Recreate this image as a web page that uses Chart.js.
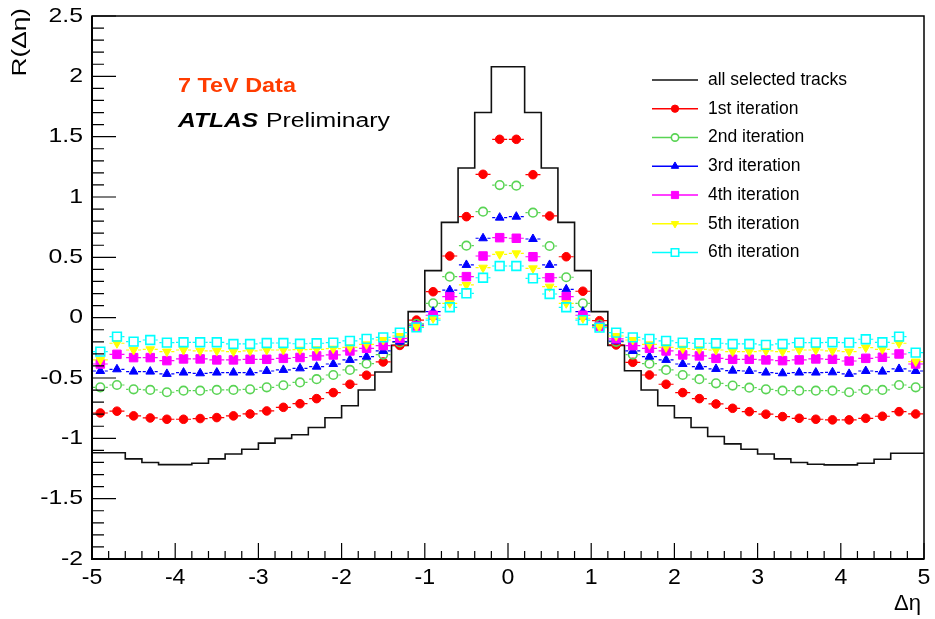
<!DOCTYPE html>
<html>
<head>
<meta charset="utf-8">
<script src="https://cdn.jsdelivr.net/npm/chart.js@4/dist/chart.umd.min.js"></script>
<style>
  html, body { margin: 0; padding: 0; background: #ffffff; }
  canvas { display: block; }
</style>
</head>
<body>
<canvas id="chart" width="935" height="619"></canvas>
<script>
// Δη bin centres: 50 bins of width 0.2 from -5 to 5
const etaCentres = [-4.9, -4.7, -4.5, -4.3, -4.1, -3.9, -3.7, -3.5, -3.3, -3.1,
  -2.9, -2.7, -2.5, -2.3, -2.1, -1.9, -1.7, -1.5, -1.3, -1.1,
  -0.9, -0.7, -0.5, -0.3, -0.1, 0.1, 0.3, 0.5, 0.7, 0.9,
  1.1, 1.3, 1.5, 1.7, 1.9, 2.1, 2.3, 2.5, 2.7, 2.9,
  3.1, 3.3, 3.5, 3.7, 3.9, 4.1, 4.3, 4.5, 4.7, 4.9];
const binHalfWidth = 0.1;

// R(Δη) for all selected tracks (histogram)
const allTracks = [-1.12, -1.12, -1.17, -1.20, -1.218, -1.218, -1.207, -1.17, -1.13, -1.09,
  -1.04, -1.00, -0.97, -0.91, -0.83, -0.73, -0.60, -0.45, -0.23, 0.05,
  0.39, 0.79, 1.24, 1.70, 2.08, 2.08, 1.70, 1.24, 0.79, 0.39,
  0.05, -0.23, -0.44, -0.60, -0.73, -0.83, -0.91, -0.985, -1.046, -1.09,
  -1.13, -1.17, -1.20, -1.215, -1.22, -1.22, -1.207, -1.173, -1.123, -1.123];

// R(Δη) after each iteration
const iteration1 = [-0.790, -0.775, -0.814, -0.831, -0.842, -0.842, -0.836, -0.828, -0.814, -0.798,
  -0.773, -0.743, -0.713, -0.671, -0.621, -0.552, -0.477, -0.367, -0.230, -0.020,
  0.215, 0.511, 0.837, 1.188, 1.478, 1.478, 1.185, 0.843, 0.505, 0.219,
  -0.025, -0.226, -0.370, -0.475, -0.552, -0.621, -0.671, -0.715, -0.751, -0.779,
  -0.800, -0.820, -0.834, -0.842, -0.847, -0.847, -0.834, -0.817, -0.779, -0.798];
const iteration2 = [-0.577, -0.558, -0.594, -0.599, -0.618, -0.605, -0.605, -0.599, -0.599, -0.594,
  -0.577, -0.560, -0.537, -0.510, -0.475, -0.433, -0.381, -0.306, -0.205, -0.052,
  0.119, 0.340, 0.597, 0.878, 1.099, 1.094, 0.870, 0.594, 0.335, 0.119,
  -0.058, -0.200, -0.306, -0.381, -0.433, -0.475, -0.510, -0.544, -0.563, -0.580,
  -0.594, -0.605, -0.605, -0.605, -0.605, -0.618, -0.599, -0.599, -0.558, -0.577];
const iteration3 = [-0.442, -0.428, -0.447, -0.447, -0.466, -0.455, -0.461, -0.455, -0.455, -0.455,
  -0.442, -0.433, -0.420, -0.406, -0.384, -0.350, -0.323, -0.276, -0.199, -0.063,
  0.050, 0.229, 0.437, 0.658, 0.829, 0.837, 0.652, 0.437, 0.235, 0.050,
  -0.067, -0.195, -0.276, -0.323, -0.350, -0.384, -0.406, -0.425, -0.439, -0.442,
  -0.455, -0.461, -0.455, -0.455, -0.453, -0.466, -0.442, -0.447, -0.425, -0.442];
const iteration4 = [-0.384, -0.304, -0.331, -0.331, -0.356, -0.342, -0.342, -0.350, -0.350, -0.345,
  -0.345, -0.337, -0.330, -0.317, -0.309, -0.276, -0.254, -0.232, -0.171, -0.069,
  0.020, 0.174, 0.340, 0.511, 0.663, 0.658, 0.505, 0.331, 0.174, 0.020,
  -0.072, -0.175, -0.232, -0.254, -0.276, -0.309, -0.317, -0.337, -0.345, -0.345,
  -0.350, -0.356, -0.350, -0.342, -0.345, -0.359, -0.337, -0.328, -0.301, -0.384];
const iteration5 = [-0.350, -0.212, -0.268, -0.262, -0.281, -0.268, -0.275, -0.275, -0.281, -0.275,
  -0.268, -0.268, -0.265, -0.262, -0.257, -0.246, -0.221, -0.185, -0.152, -0.074,
  -0.005, 0.119, 0.271, 0.414, 0.525, 0.533, 0.409, 0.257, 0.119, -0.005,
  -0.076, -0.152, -0.185, -0.221, -0.246, -0.257, -0.262, -0.268, -0.281, -0.281,
  -0.275, -0.281, -0.268, -0.268, -0.275, -0.281, -0.248, -0.262, -0.212, -0.364];
const iteration6 = [-0.281, -0.157, -0.199, -0.185, -0.207, -0.204, -0.204, -0.204, -0.218, -0.218,
  -0.210, -0.210, -0.216, -0.212, -0.207, -0.193, -0.176, -0.163, -0.124, -0.080,
  -0.020, 0.086, 0.202, 0.331, 0.428, 0.428, 0.326, 0.196, 0.086, -0.020,
  -0.082, -0.124, -0.163, -0.176, -0.193, -0.207, -0.212, -0.212, -0.218, -0.218,
  -0.226, -0.218, -0.207, -0.207, -0.204, -0.207, -0.179, -0.204, -0.157, -0.290];

const seriesLabels = ['all selected tracks', '1st iteration', '2nd iteration', '3rd iteration',
  '4th iteration', '5th iteration', '6th iteration'];

const xTickValues = [-5, -4, -3, -2, -1, 0, 1, 2, 3, 4, 5];
const xTickLabels = ['-5', '-4', '-3', '-2', '-1', '0', '1', '2', '3', '4', '5'];
const yTickValues = [-2, -1.5, -1, -0.5, 0, 0.5, 1, 1.5, 2, 2.5];
const yTickLabels = ['-2', '-1.5', '-1', '-0.5', '0', '0.5', '1', '1.5', '2', '2.5'];

// ---- marker styles for the iteration series ----
const markerStyles = [
  { color: '#ff0000', pointStyle: 'circle',   rotation: 0,   radius: 4.3, filled: true,  borderWidth: 1,   gap: 4.2 },
  { color: '#59d454', pointStyle: 'circle',   rotation: 0,   radius: 4.3, filled: false, borderWidth: 1.6, gap: 5.2 },
  { color: '#0000ff', pointStyle: 'triangle', rotation: 0,   radius: 5.0, filled: true,  borderWidth: 1,   gap: 4.4 },
  { color: '#ff00ff', pointStyle: 'rect',     rotation: 0,   radius: 6.0, filled: true,  borderWidth: 1,   gap: 4.4 },
  { color: '#ffff00', pointStyle: 'triangle', rotation: 180, radius: 5.0, filled: true,  borderWidth: 1,   gap: 4.4 },
  { color: '#00ffff', pointStyle: 'rect',     rotation: 0,   radius: 6.2, filled: false, borderWidth: 1.6, gap: 5.2 }
];
const iterationValues = [iteration1, iteration2, iteration3, iteration4, iteration5, iteration6];

const FONT = '"Liberation Sans", Arial, Helvetica, sans-serif';

// histogram outline: one point at each left bin edge plus the closing right edge
const histPoints = etaCentres.map((c, i) => ({ x: c - binHalfWidth, y: allTracks[i] }));
histPoints.push({ x: etaCentres[etaCentres.length - 1] + binHalfWidth, y: allTracks[allTracks.length - 1] });

const datasets = [{
  label: seriesLabels[0],
  data: histPoints,
  stepped: 'before',
  borderColor: '#111111',
  borderWidth: 1.6,
  pointRadius: 0,
  fill: false,
  order: 10
}];
iterationValues.forEach((vals, k) => {
  const s = markerStyles[k];
  datasets.push({
    label: seriesLabels[k + 1],
    data: etaCentres.map((c, i) => ({ x: c, y: vals[i] })),
    showLine: false,
    borderColor: s.color,
    backgroundColor: s.color,
    pointStyle: s.pointStyle,
    pointRotation: s.rotation,
    pointRadius: s.radius,
    pointHoverRadius: s.radius,
    pointBackgroundColor: s.filled ? s.color : 'rgba(0,0,0,0)',
    pointBorderColor: s.color,
    pointBorderWidth: s.borderWidth,
    order: 6 - k,
    styleIndex: k
  });
});

// text helper: optional stretch along the writing direction and rotation
function putText(ctx, str, x, y, opts) {
  ctx.save();
  ctx.translate(x, y);
  if (opts.angle) ctx.rotate(opts.angle);
  ctx.scale(opts.sx || 1, 1);
  ctx.font = opts.font;
  ctx.fillStyle = opts.color || '#000';
  ctx.textAlign = opts.align || 'left';
  ctx.textBaseline = opts.baseline || 'alphabetic';
  ctx.fillText(str, 0, 0);
  ctx.restore();
}

// horizontal bin-width bars drawn under each marker series
const binBars = {
  id: 'binBars',
  beforeDatasetDraw(chart, args) {
    const ds = chart.data.datasets[args.index];
    if (ds.styleIndex === undefined) return;
    const s = markerStyles[ds.styleIndex];
    const { ctx, scales: { x, y } } = chart;
    ctx.save();
    ctx.strokeStyle = s.color;
    ctx.lineWidth = 1.2;
    ctx.beginPath();
    ds.data.forEach(p => {
      const px = x.getPixelForValue(p.x);
      const py = y.getPixelForValue(p.y);
      const xl = x.getPixelForValue(p.x - 0.09);
      const xr = x.getPixelForValue(p.x + 0.09);
      ctx.moveTo(xl, py); ctx.lineTo(px - s.gap, py);
      ctx.moveTo(px + s.gap, py); ctx.lineTo(xr, py);
    });
    ctx.stroke();
    ctx.restore();
  }
};

// frame with inward ticks
const frameTicks = {
  id: 'frameTicks',
  afterDatasetsDraw(chart) {
    const { ctx, chartArea: a, scales: { x, y } } = chart;
    ctx.save();
    ctx.strokeStyle = '#000';
    ctx.lineWidth = 1.2;
    ctx.beginPath();
    for (let k = 0; k <= 50; k++) {
      const px = x.getPixelForValue(-5 + k * 0.2);
      const len = (k % 5 === 0) ? 16 : 8;
      ctx.moveTo(px, a.bottom); ctx.lineTo(px, a.bottom - len);
    }
    for (let k = 0; k <= 45; k++) {
      const py = y.getPixelForValue(-2 + k * 0.1);
      const len = (k % 5 === 0) ? 24 : 12;
      ctx.moveTo(a.left, py); ctx.lineTo(a.left + len, py);
    }
    ctx.stroke();
    ctx.lineWidth = 1.5;
    ctx.strokeRect(a.left, a.top, a.right - a.left, a.bottom - a.top);
    ctx.lineWidth = 2;
    ctx.beginPath();
    ctx.moveTo(a.left, a.top); ctx.lineTo(a.left, a.bottom); ctx.lineTo(a.right, a.bottom);
    ctx.stroke();
    ctx.restore();
  }
};

// axis labels, titles, annotation and legend
const annotations = {
  id: 'annotations',
  afterDraw(chart) {
    const { ctx, chartArea: a, scales: { x, y } } = chart;
    yTickValues.forEach((v, i) => {
      putText(ctx, yTickLabels[i], a.left - 9, y.getPixelForValue(v),
        { font: '21px ' + FONT, align: 'right', baseline: 'middle', sx: 1.18 });
    });
    xTickValues.forEach((v, i) => {
      putText(ctx, xTickLabels[i], x.getPixelForValue(v), 578,
        { font: '22px ' + FONT, align: 'center', baseline: 'middle', sx: 1.05 });
    });
    putText(ctx, 'Δη', 921, 604, { font: '22px ' + FONT, align: 'right', baseline: 'middle' });
    putText(ctx, 'R(Δη)', 20, 8, { font: '21px ' + FONT, align: 'right', baseline: 'middle', angle: -Math.PI / 2, sx: 1.25 });

    putText(ctx, '7 TeV Data', 178, 92, { font: 'bold 20px ' + FONT, color: '#ff3c00', sx: 1.17 });
    putText(ctx, 'ATLAS', 178, 127, { font: 'italic bold 20px ' + FONT, sx: 1.23 });
    putText(ctx, 'Preliminary', 266, 127, { font: '20px ' + FONT, sx: 1.24 });

    // legend
    const rowY = [80, 108.7, 137.5, 166.2, 195, 223.7, 252.5];
    const x0 = 652, x1 = 698, xm = 675, xt = 708;
    ctx.save();
    ctx.lineWidth = 1.6;
    ctx.strokeStyle = '#111111';
    ctx.beginPath(); ctx.moveTo(x0, rowY[0]); ctx.lineTo(x1, rowY[0]); ctx.stroke();
    ctx.restore();
    putText(ctx, seriesLabels[0], xt, rowY[0], { font: '17.5px ' + FONT, baseline: 'middle' });
    markerStyles.forEach((s, k) => {
      const ry = rowY[k + 1];
      ctx.save();
      ctx.strokeStyle = s.color;
      ctx.lineWidth = 1.6;
      ctx.beginPath(); ctx.moveTo(x0, ry); ctx.lineTo(x1, ry); ctx.stroke();
      ctx.fillStyle = s.filled ? s.color : '#ffffff';
      ctx.strokeStyle = s.color;
      ctx.lineWidth = s.borderWidth;
      const opts = { pointStyle: s.pointStyle, rotation: s.rotation, radius: s.radius * 0.85, borderWidth: s.borderWidth };
      if (Chart.helpers && Chart.helpers.drawPoint) {
        Chart.helpers.drawPoint(ctx, opts, xm, ry);
      } else {
        ctx.beginPath(); ctx.arc(xm, ry, opts.radius, 0, Math.PI * 2); ctx.fill(); ctx.stroke();
      }
      ctx.restore();
      putText(ctx, seriesLabels[k + 1], xt, ry, { font: '17.5px ' + FONT, baseline: 'middle' });
    });
  }
};

new Chart(document.getElementById('chart'), {
  type: 'line',
  data: { datasets },
  options: {
    responsive: false,
    animation: false,
    devicePixelRatio: 1,
    events: [],
    layout: { padding: { left: 92, right: 11, top: 16, bottom: 60 } },
    scales: {
      x: { type: 'linear', min: -5, max: 5, display: false },
      y: { type: 'linear', min: -2, max: 2.5, display: false }
    },
    plugins: {
      legend: { display: false },
      tooltip: { enabled: false },
      title: { display: false }
    }
  },
  plugins: [binBars, frameTicks, annotations]
});
</script>
</body>
</html>
